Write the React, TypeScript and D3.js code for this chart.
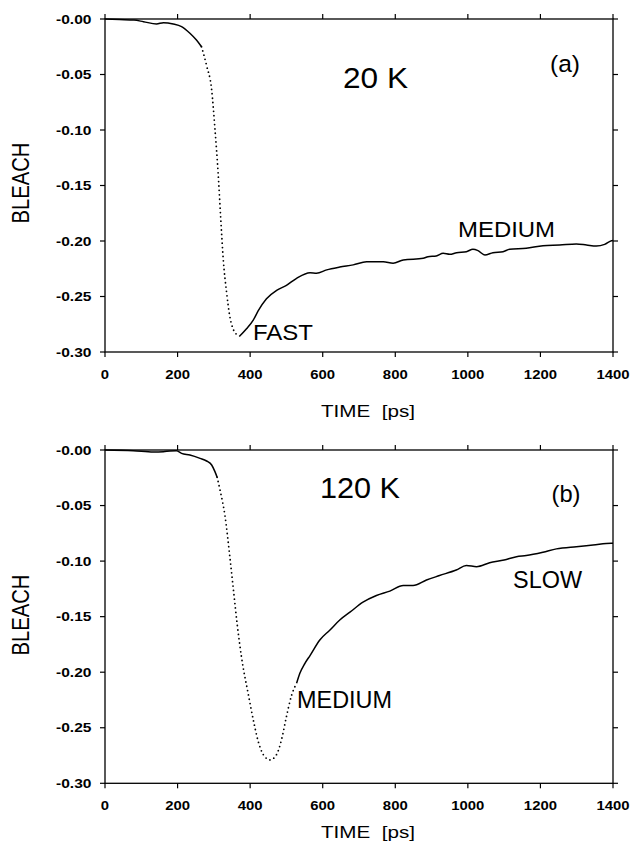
import React from 'react';
import * as d3 from 'd3';

const xTicks = [0, 200, 400, 600, 800, 1000, 1200, 1400];
const yTicks = [0, -0.05, -0.1, -0.15, -0.2, -0.25, -0.3];
const yTickLabels = ['-0.00', '-0.05', '-0.10', '-0.15', '-0.20', '-0.25', '-0.30'];

// Panel (a) 20 K
const timeA = [0, 40, 80, 106, 142, 161, 188, 211, 234, 252, 266, 280, 294, 303, 312, 319, 326, 335, 344, 354, 362, 370, 390, 409, 422, 445, 473, 500, 528, 565, 583, 611, 647, 684, 721, 767, 794, 822, 877, 890, 913, 932, 950, 969, 996, 1014, 1028, 1047, 1069, 1097, 1115, 1161, 1207, 1253, 1299, 1327, 1354, 1377, 1396, 1400];
const bleachA = [0, -0.0005, -0.001, -0.0024, -0.0045, -0.0033, -0.0045, -0.0069, -0.0129, -0.019, -0.025, -0.042, -0.064, -0.099, -0.14, -0.18, -0.217, -0.246, -0.268, -0.28, -0.284, -0.286, -0.279, -0.271, -0.263, -0.252, -0.2445, -0.24, -0.2336, -0.2286, -0.229, -0.226, -0.2235, -0.2215, -0.2188, -0.2186, -0.22, -0.2171, -0.2156, -0.2141, -0.2135, -0.2111, -0.212, -0.2105, -0.2096, -0.2075, -0.2087, -0.2126, -0.2105, -0.2096, -0.2075, -0.2066, -0.2042, -0.2036, -0.2027, -0.2036, -0.2045, -0.203, -0.1997, -0.1995];
const dottedA = [266, 370];

// Panel (b) 120 K
const timeB = [0, 78, 133, 161, 179, 197, 211, 234, 262, 280, 294, 303, 309, 317, 331, 344, 354, 364, 376, 395, 410, 422, 436, 455, 473, 487, 500, 514, 528, 537, 551, 565, 592, 620, 647, 675, 711, 748, 785, 822, 849, 886, 922, 968, 996, 1024, 1060, 1100, 1134, 1161, 1207, 1244, 1299, 1345, 1395, 1400];
const bleachB = [0, -0.0006, -0.0018, -0.0015, -0.0009, -0.0006, -0.003, -0.0045, -0.0075, -0.0099, -0.0135, -0.0195, -0.0246, -0.036, -0.06, -0.096, -0.126, -0.156, -0.186, -0.22, -0.245, -0.262, -0.274, -0.279, -0.274, -0.26, -0.24, -0.221, -0.21, -0.201, -0.192, -0.185, -0.171, -0.162, -0.153, -0.146, -0.137, -0.131, -0.127, -0.122, -0.122, -0.117, -0.113, -0.108, -0.104, -0.105, -0.1015, -0.099, -0.096, -0.095, -0.092, -0.089, -0.087, -0.0856, -0.084, -0.084];
const dottedB = [309, 528];

const FONT = '"Liberation Sans", Arial, Helvetica, sans-serif';
const X0 = 105;
const X1 = 613;

const cw: Record<string, number> = { '-': 0.333, '.': 0.278 };
function tl(s: string, fs: number, k: number) {
  let w = 0;
  for (const c of s) w += cw[c] ?? 0.556;
  return w * fs * k;
}

type P = {
  top: number;
  bottom: number;
  time: number[];
  bleach: number[];
  dotted: number[];
  titleDy: number;
  bleachY: number;
  children?: React.ReactNode;
};

function Panel({ top, bottom, time, bleach, dotted, titleDy, bleachY, children }: P) {
  const x = d3.scaleLinear().domain([0, 1400]).range([X0, X1]);
  const y = d3.scaleLinear().domain([-0.3, 0]).range([bottom, top]);
  const pts: [number, number][] = time.map((t, i) => [t, bleach[i]]);
  const line = d3
    .line<[number, number]>()
    .x((d) => x(d[0]))
    .y((d) => y(d[1]))
    .curve(d3.curveMonotoneX);
  const s1 = pts.filter((p) => p[0] <= dotted[0]);
  const s2 = pts.filter((p) => p[0] >= dotted[0] && p[0] <= dotted[1]);
  const s3 = pts.filter((p) => p[0] >= dotted[1]);
  const tickLen = 5;
  const tfs = 13.3;
  return (
    <g>
      <rect x={X0} y={top} width={X1 - X0} height={bottom - top} fill="none" stroke="#000" strokeWidth={1.3} />
      {xTicks.map((t) => (
        <g key={'x' + t}>
          <line x1={x(t)} x2={x(t)} y1={top} y2={top - tickLen} stroke="#000" strokeWidth={1.2} />
          <line x1={x(t)} x2={x(t)} y1={bottom} y2={bottom + tickLen} stroke="#000" strokeWidth={1.2} />
          <text
            x={x(t)}
            y={bottom + 26.5}
            textAnchor="middle"
            fontFamily={FONT}
            fontWeight="bold"
            fontSize={tfs}
            textLength={tl(String(t), tfs, 1.12)}
            lengthAdjust="spacingAndGlyphs"
          >
            {String(t)}
          </text>
        </g>
      ))}
      {yTicks.map((v, i) => (
        <g key={'y' + i}>
          <line x1={X0} x2={X0 - tickLen} y1={y(v)} y2={y(v)} stroke="#000" strokeWidth={1.2} />
          <line x1={X1} x2={X1 + tickLen} y1={y(v)} y2={y(v)} stroke="#000" strokeWidth={1.2} />
          <text
            x={91.5}
            y={y(v) + 4.7}
            textAnchor="end"
            fontFamily={FONT}
            fontWeight="bold"
            fontSize={tfs}
            textLength={tl(yTickLabels[i], tfs, 1.17)}
            lengthAdjust="spacingAndGlyphs"
          >
            {yTickLabels[i]}
          </text>
        </g>
      ))}
      <path d={line(s1) || ''} fill="none" stroke="#000" strokeWidth={1.5} strokeLinejoin="round" />
      <path
        d={line(s2) || ''}
        fill="none"
        stroke="#000"
        strokeWidth={1.8}
        strokeLinecap="round"
        strokeDasharray="0 4.4"
      />
      <path d={line(s3) || ''} fill="none" stroke="#000" strokeWidth={1.5} strokeLinejoin="round" />
      <text
        x={321}
        y={bottom + titleDy}
        fontFamily={FONT}
        fontSize={16.5}
        textLength={94}
        lengthAdjust="spacingAndGlyphs"
        xmlSpace="preserve"
        style={{ whiteSpace: 'pre' }}
      >
        {'TIME  [ps]'}
      </text>
      <text
        transform={`translate(28.5,${bleachY}) rotate(-90)`}
        textAnchor="middle"
        fontFamily={FONT}
        fontSize={23.5}
        textLength={81}
        lengthAdjust="spacingAndGlyphs"
      >
        BLEACH
      </text>
      {children}
    </g>
  );
}

export default function App() {
  return (
    <div style={{ position: 'absolute', left: 0, top: 0 }}>
      <svg width={631} height={845} viewBox="0 0 631 845" style={{ display: 'block', background: '#fff' }}>
        <rect x={0} y={0} width={631} height={845} fill="#fff" />
        <Panel top={19} bottom={352} time={timeA} bleach={bleachA} dotted={dottedA} titleDy={64.7} bleachY={183}>
          <text x={343} y={88} fontFamily={FONT} fontSize={30} textLength={65} lengthAdjust="spacingAndGlyphs">
            20 K
          </text>
          <text x={550} y={72} fontFamily={FONT} fontSize={24.5} textLength={30} lengthAdjust="spacingAndGlyphs">
            (a)
          </text>
          <text x={458} y={237.3} fontFamily={FONT} fontSize={22} textLength={97} lengthAdjust="spacingAndGlyphs">
            MEDIUM
          </text>
          <text x={253} y={340} fontFamily={FONT} fontSize={21.5} textLength={60} lengthAdjust="spacingAndGlyphs">
            FAST
          </text>
        </Panel>
        <Panel top={450} bottom={783.3} time={timeB} bleach={bleachB} dotted={dottedB} titleDy={54.5} bleachY={615}>
          <text x={320} y={498} fontFamily={FONT} fontSize={30} textLength={80} lengthAdjust="spacingAndGlyphs">
            120 K
          </text>
          <text x={551.5} y={502} fontFamily={FONT} fontSize={24.5} textLength={29} lengthAdjust="spacingAndGlyphs">
            (b)
          </text>
          <text x={513} y={588.3} fontFamily={FONT} fontSize={23} textLength={69} lengthAdjust="spacingAndGlyphs">
            SLOW
          </text>
          <text x={297} y={708} fontFamily={FONT} fontSize={23} textLength={95} lengthAdjust="spacingAndGlyphs">
            MEDIUM
          </text>
        </Panel>
      </svg>
    </div>
  );
}
